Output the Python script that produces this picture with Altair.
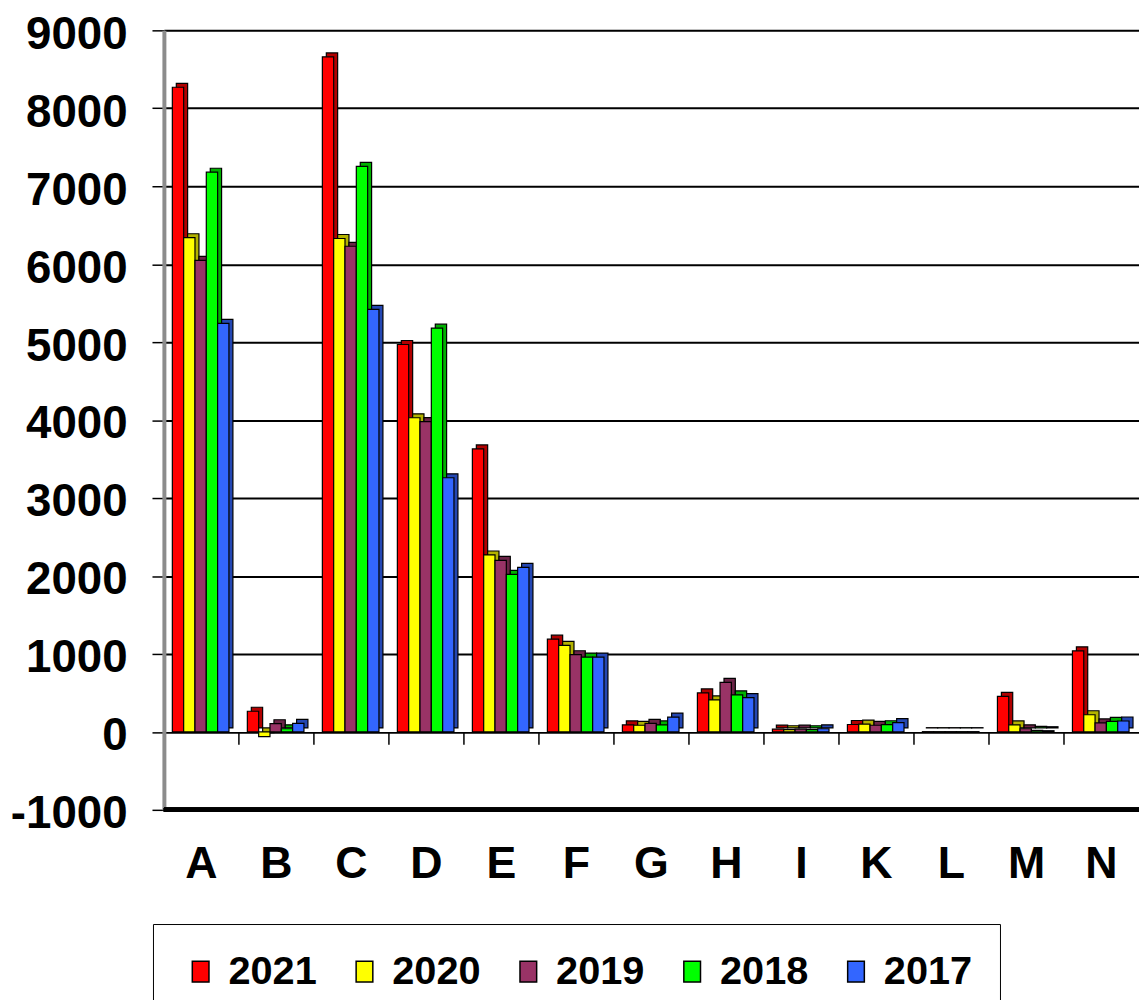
import altair as alt
import pandas as pd

categories = ["A", "B", "C", "D", "E", "F", "G", "H", "I", "K", "L", "M", "N"]
years = ["2021", "2020", "2019", "2018", "2017"]
v2021 = [8270, 265, 8660, 4970, 3630, 1190, 90, 500, 35, 95, 3, 455, 1040]
v2020 = [6340, -60, 6330, 4030, 2270, 1110, 85, 410, 28, 100, 3, 90, 220]
v2019 = [6050, 105, 6230, 3980, 2200, 990, 110, 635, 35, 85, 3, 40, 115]
v2018 = [7180, 40, 7255, 5180, 2020, 960, 90, 475, 28, 92, 3, 20, 135]
v2017 = [5240, 110, 5420, 3260, 2110, 960, 190, 440, 40, 120, 3, 15, 140]
front_colors = ["#FF0000", "#FFFF00", "#993366", "#00FF00", "#3366FF"]
side_colors = ["#B00000", "#B3B300", "#6B2447", "#00B000", "#2447B3"]
y_ticks = list(range(-1000, 10000, 1000))

series = {"2021": v2021, "2020": v2020, "2019": v2019, "2018": v2018, "2017": v2017}
rows = []
for yr in years:
    for c, v in zip(categories, series[yr]):
        rows.append({"cat": c, "year": yr, "value": v})
df = pd.DataFrame(rows)
bounds_df = pd.DataFrame({"cat": categories[1:]})

FONT = "Liberation Sans"
W, H = 982, 785

x_axis = alt.Axis(title=None, ticks=False, domain=False, grid=False, labelAngle=0,
                  labelFont=FONT, labelFontSize=45, labelFontWeight="bold",
                  labelPadding=32, labelColor="black")
x_scale = alt.Scale(domain=categories, paddingInner=0, paddingOuter=0)
y_scale = alt.Scale(domain=[-1000, 9000], nice=False, zero=False)
y_axis = alt.Axis(title=None, values=y_ticks, labelExpr="'' + datum.value",
                  labelFont=FONT, labelFontSize=46, labelFontWeight="bold",
                  labelColor="black", labelPadding=25, labelOffset=4,
                  tickSize=12, tickColor="black", tickWidth=1.5,
                  domainColor="#8c8c8c", domainWidth=4,
                  grid=True, gridColor="black", gridWidth=2)

back = alt.Chart(df).mark_bar(yOffset=-4, stroke="black", strokeWidth=1.2).encode(
    x=alt.X("cat:N", sort=categories, scale=x_scale, axis=x_axis),
    xOffset=alt.XOffset("year:N", sort=years,
                        scale=alt.Scale(domain=years, range=[12.5, 69.5], paddingInner=0, paddingOuter=0)),
    y=alt.Y("value:Q", scale=y_scale, axis=y_axis),
    color=alt.Color("year:N", scale=alt.Scale(domain=years, range=side_colors), legend=None),
)

front = alt.Chart(df).mark_bar(stroke="black", strokeWidth=1.2).encode(
    x=alt.X("cat:N", sort=categories, scale=x_scale, axis=x_axis),
    xOffset=alt.XOffset("year:N", sort=years,
                        scale=alt.Scale(domain=years, range=[8.5, 65.5], paddingInner=0, paddingOuter=0)),
    y=alt.Y("value:Q", scale=y_scale, axis=y_axis),
    color=alt.Color("year:N", scale=alt.Scale(domain=years, range=front_colors),
                    legend=alt.Legend(orient="none", legendX=-11, legendY=900,
                                      direction="horizontal", columns=5, title=None,
                                      symbolType="M-0.8,-1H0.8V1H-0.8Z",
                                      symbolSize=441, symbolStrokeColor="black",
                                      symbolStrokeWidth=1.5,
                                      labelFont=FONT, labelFontSize=40, labelFontWeight="bold",
                                      labelColor="black", labelOffset=8, columnPadding=28,
                                      strokeColor="black", fillColor="white", padding=28)),
)

ticks = alt.Chart(bounds_df).mark_rule(color="black", strokeWidth=1.5).encode(
    x=alt.X("cat:N", sort=categories, scale=x_scale, axis=x_axis, bandPosition=0),
    y=alt.YDatum(0, title=None),
    y2=alt.Y2Datum(-165),
)

floor = alt.Chart(bounds_df).mark_rule(color="black", strokeWidth=4).encode(
    x=alt.value(0), x2=alt.value(W),
    y=alt.YDatum(-1000, title=None),
)

chart = alt.layer(back, front, ticks, floor).resolve_scale(
    xOffset="independent", color="independent"
).properties(
    width=W, height=H,
    autosize=alt.AutoSizeParams(type="none"),
    padding={"left": 157, "top": 19, "right": 0, "bottom": 188},
).configure_view(stroke=None).configure(background="white")

chart.save("out.html", embed_options={"renderer": "svg", "actions": False})
